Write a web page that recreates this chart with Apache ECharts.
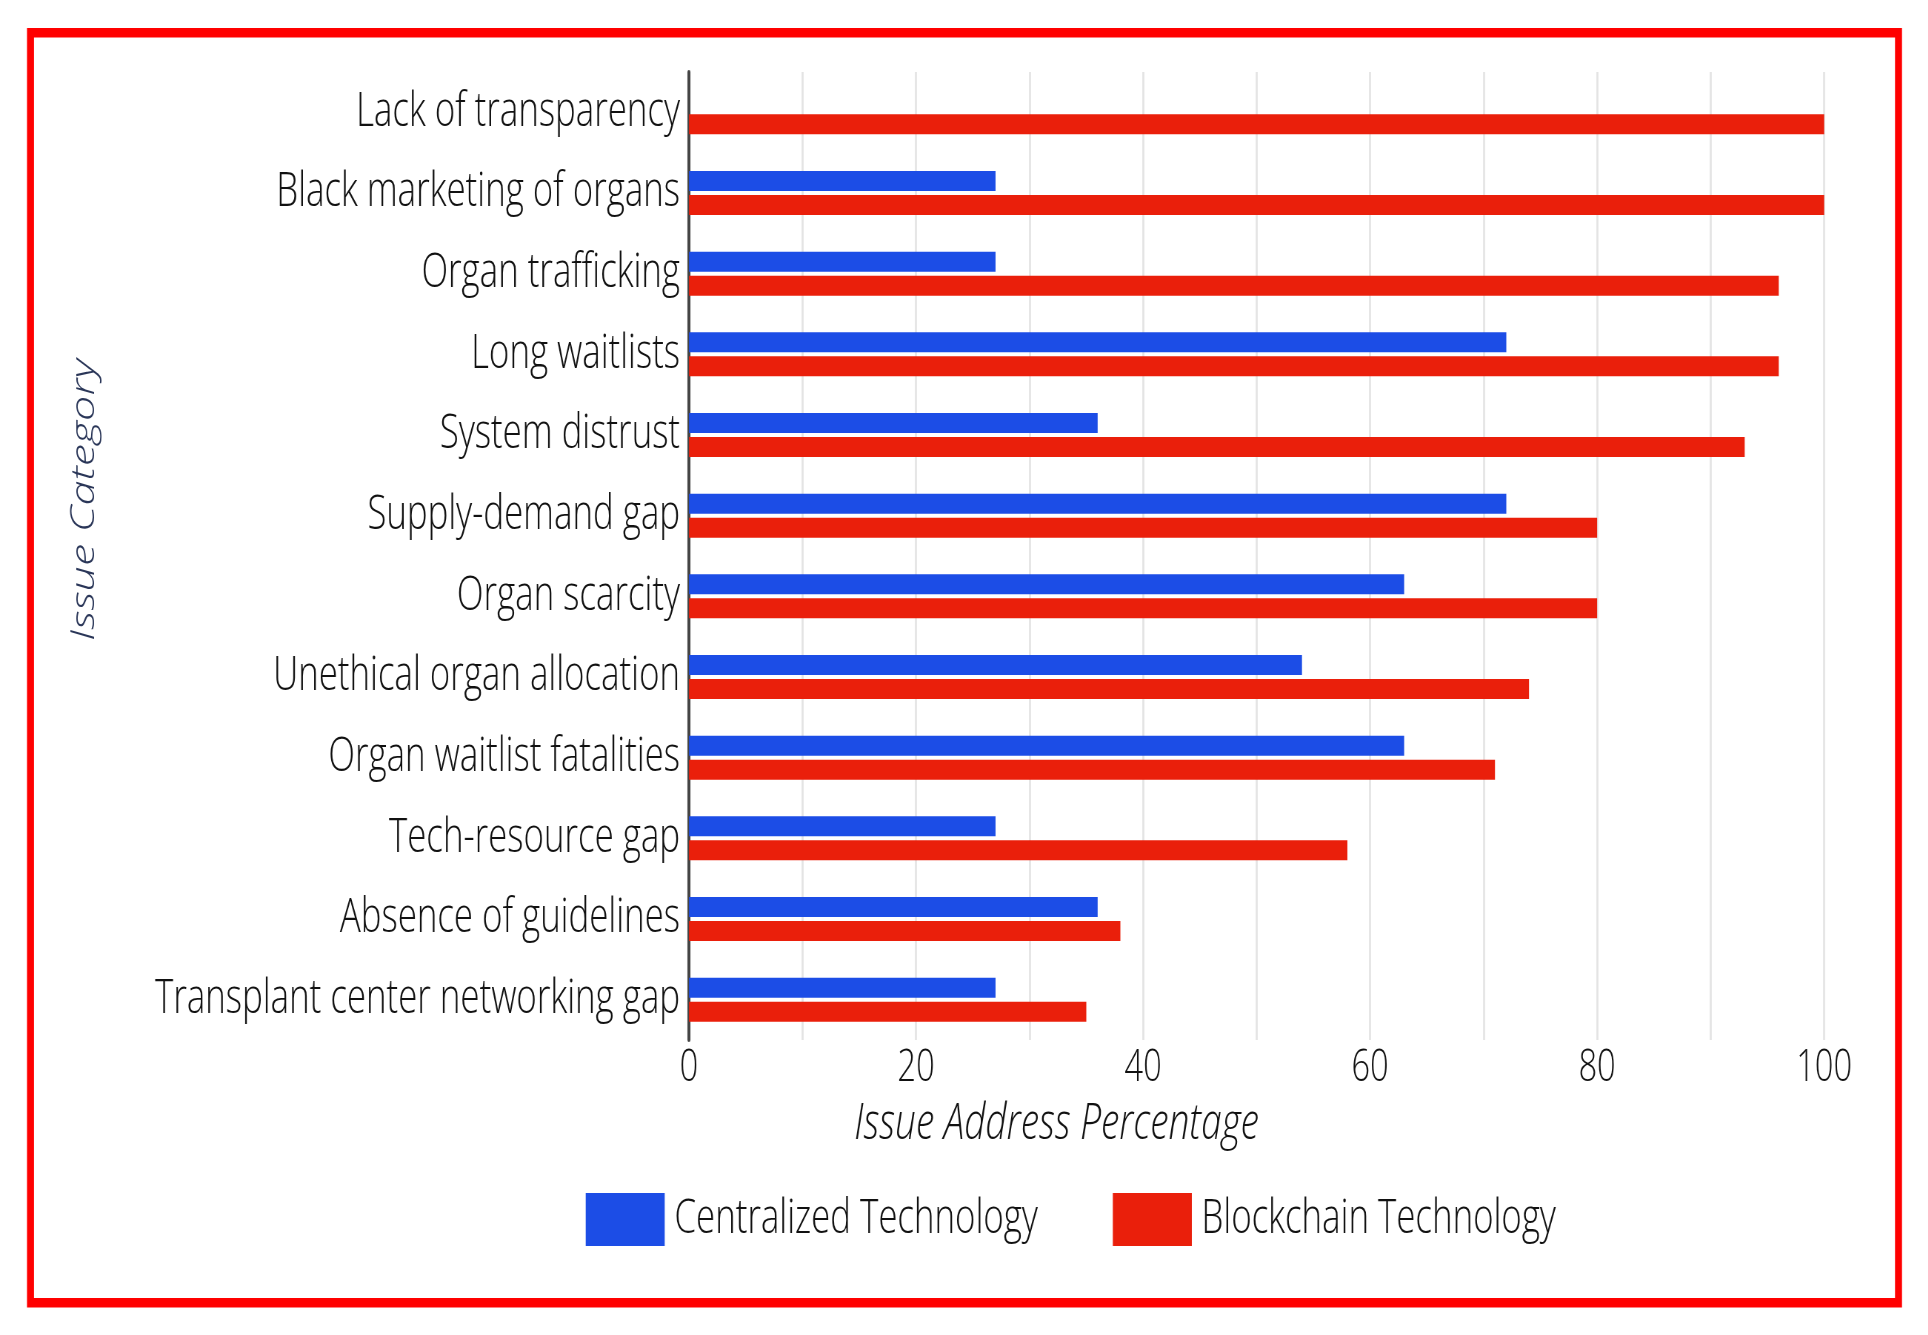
<!DOCTYPE html>
<html>
<head>
<meta charset="utf-8">
<script src="https://cdn.jsdelivr.net/npm/echarts@6/dist/echarts.min.js"></script>
<style>
  html, body { margin: 0; padding: 0; background: #fff; overflow: hidden; }
  #wrap { width: 1928px; height: 1335px; overflow: hidden; }
  #chart { height: 1335px; transform-origin: 0 0; }
</style>
</head>
<body>
<div id="wrap"><div id="chart"></div></div>
<script>
// categories top to bottom
var categories = [
	'Lack of transparency',
	'Black marketing of organs',
	'Organ trafficking',
	'Long waitlists',
	'System distrust',
	'Supply-demand gap',
	'Organ scarcity',
	'Unethical organ allocation',
	'Organ waitlist fatalities',
	'Tech-resource gap',
	'Absence of guidelines',
	'Transplant center networking gap'
];
var centralized = [0, 27, 27, 72, 36, 72, 63, 54, 63, 27, 36, 27];
var blockchain = [100, 100, 96, 96, 93, 80, 80, 74, 71, 58, 38, 35];
var xTicks = [0, 20, 40, 60, 80, 100];

// the source figure uses a tall narrow face; draw wider and squeeze horizontally
var K = 1.35;
var W = 1928;
var font = '"Open Sans", "Noto Sans", sans-serif';

var el = document.getElementById('chart');
el.style.width = Math.round(W * K) + 'px';
el.style.transform = 'scaleX(' + (1 / K) + ')';

var chart = echarts.init(el);
chart.setOption({
	animation: false,
	backgroundColor: '#fff',
	grid: { left: 689 * K, right: 104 * K, top: 72, bottom: 295 },
	legend: {
		left: 582 * K,
		top: 1188,
		itemWidth: 79 * K,
		itemHeight: 53,
		itemGap: 75 * K,
		icon: 'rect',
		textStyle: { fontFamily: font, fontSize: 47, fontWeight: 350, color: '#111', padding: [0, 0, 0, 6 * K] },
		data: ['Centralized Technology', 'Blockchain Technology']
	},
	xAxis: {
		type: 'value',
		min: 0,
		max: 100,
		interval: 10,
		name: 'Issue Address Percentage',
		nameLocation: 'middle',
		nameGap: 60,
		nameTextStyle: {
			fontFamily: font, fontSize: 50, fontStyle: 'italic', fontWeight: 350, color: '#111',
			padding: [0, 400 * K, 0, 0]
		},
		axisLine: { show: false },
		axisTick: { show: false },
		axisLabel: {
			margin: 6,
			fontFamily: font, fontSize: 44, fontWeight: 350, color: '#111',
			formatter: function (v) { return xTicks.indexOf(v) >= 0 ? String(v) : ''; }
		},
		splitLine: { show: true, lineStyle: { color: '#e4e4e4', width: 2 * K } }
	},
	yAxis: {
		type: 'category',
		inverse: true,
		data: categories,
		name: 'Issue Category',
		nameLocation: 'middle',
		nameRotate: 90,
		nameGap: (689 - 82) * K - 26,
		nameTextStyle: {
			fontFamily: font, fontSize: 45, fontStyle: 'italic', fontWeight: 300,
			color: '#2a3658', padding: [0, 0, 0, 112]
		},
		axisLine: { show: true, lineStyle: { color: '#444', width: 3 * K } },
		axisTick: { show: false },
		axisLabel: { margin: 9 * K, fontFamily: font, fontSize: 47, fontWeight: 350, color: '#111' },
		splitLine: { show: false }
	},
	series: [
		{
			name: 'Centralized Technology',
			type: 'bar',
			data: centralized,
			barWidth: 20,
			barGap: '20%',
			itemStyle: { color: '#1c4de6' }
		},
		{
			name: 'Blockchain Technology',
			type: 'bar',
			data: blockchain,
			barWidth: 20,
			itemStyle: { color: '#ea1f0b' }
		}
	],
	graphic: [
		{
			type: 'rect',
			left: 27 * K,
			top: 28,
			shape: { width: (1902 - 27) * K - 7 * K, height: 1277 - 7 },
			style: { fill: 'none', stroke: '#ff0000', lineWidth: 7 * K },
			silent: true
		}
	]
});
</script>
</body>
</html>
